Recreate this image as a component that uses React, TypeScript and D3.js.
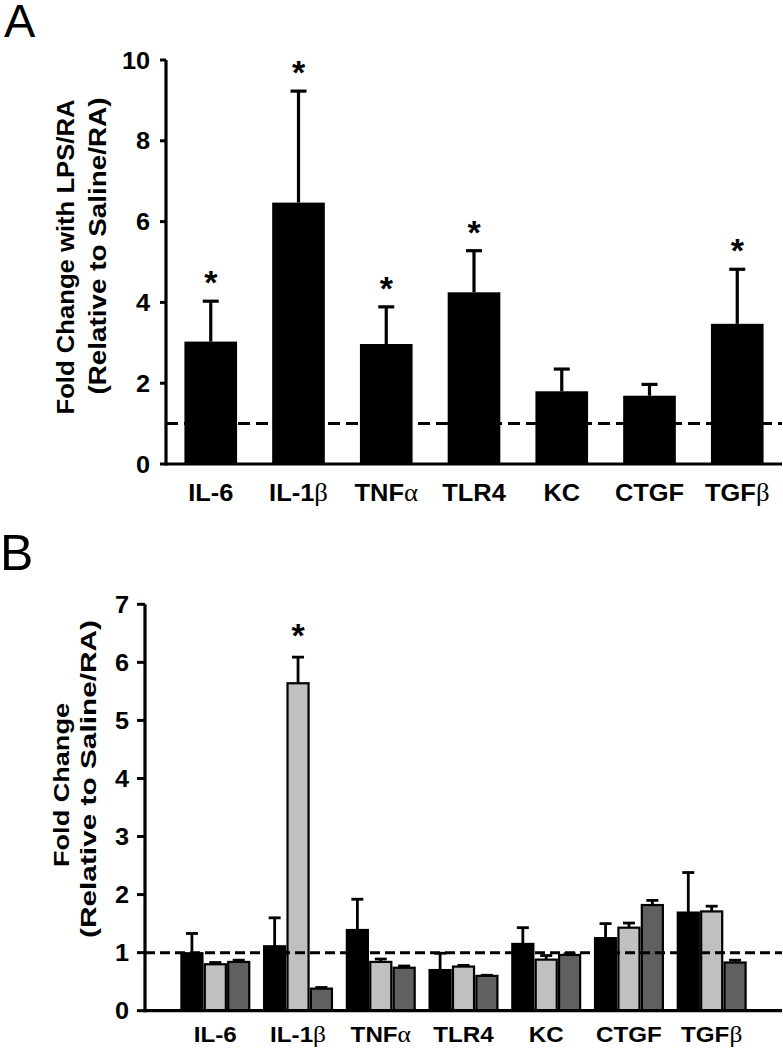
import React from 'react';
import * as d3 from 'd3';

const categories = ['IL-6', 'IL-1β', 'TNFα', 'TLR4', 'KC', 'CTGF', 'TGFβ'];

// Panel A: fold change with LPS/RA
const aMeans = [3.03, 6.47, 2.97, 4.25, 1.8, 1.69, 3.47];
const aErrors = [1.0, 2.76, 0.92, 1.03, 0.55, 0.28, 1.35];
const aSignificant = [true, true, true, true, false, false, true];
const aTicks = [0, 2, 4, 6, 8, 10];

// Panel B: three groups
const bSeriesNames = ['s1', 's2', 's3'];
const bSeries1 = [0.99, 1.11, 1.39, 0.7, 1.15, 1.25, 1.69];
const bSeries1Err = [0.34, 0.49, 0.53, 0.29, 0.28, 0.25, 0.69];
const bSeries2 = [0.8, 5.64, 0.84, 0.76, 0.88, 1.43, 1.71];
const bSeries2Err = [0.03, 0.45, 0.05, 0.02, 0.07, 0.08, 0.09];
const bSeries3 = [0.84, 0.38, 0.74, 0.6, 0.96, 1.82, 0.83];
const bSeries3Err = [0.03, 0.02, 0.03, 0.01, 0.02, 0.08, 0.04];
const bSignificant = [
  [false, false, false, false, false, false, false],
  [false, true, false, false, false, false, false],
  [false, false, false, false, false, false, false],
];
const bTicks = [0, 1, 2, 3, 4, 5, 6, 7];
const bColors = ['#000000', '#c0c0c0', '#606060'];

const FONT = 'Liberation Sans, Arial, Helvetica, sans-serif';
const GREEK = 'Liberation Serif, DejaVu Serif, serif';

function Label({ text, x, y, size, sx }: { text: string; x: number; y: number; size: number; sx: number }) {
  const last = text.slice(-1);
  const isGreek = last === 'β' || last === 'α';
  const base = isGreek ? text.slice(0, -1) : text;
  return (
    <text
      transform={`translate(${x},${y}) scale(${sx},1)`}
      textAnchor="middle"
      fontFamily={FONT}
      fontWeight="bold"
      fontSize={size}
    >
      {base}
      {isGreek && (
        <tspan fontFamily={GREEK} fontWeight="normal" fontSize={size * 1.05}>
          {last}
        </tspan>
      )}
    </text>
  );
}

function PanelA() {
  const x0 = 166, x1 = 782, yTop = 60, yBottom = 464;
  const y = d3.scaleLinear().domain([0, 10]).range([yBottom, yTop]);
  const x = d3.scaleBand<string>().domain(categories).range([x0, x1]).paddingInner(0.4).paddingOuter(0.21);
  const bw = x.bandwidth();
  return (
    <g>
      <text x={4} y={37} fontFamily={FONT} fontSize={47}>A</text>
      {categories.map((c, i) => {
        const cx = (x(c) as number) + bw / 2;
        const top = y(aMeans[i]);
        const et = y(aMeans[i] + aErrors[i]);
        return (
          <g key={c}>
            <rect x={x(c)} y={top} width={bw} height={yBottom - top} fill="#000" />
            <line x1={cx} x2={cx} y1={top} y2={et} stroke="#000" strokeWidth={3.2} />
            <line x1={cx - 8} x2={cx + 8} y1={et} y2={et} stroke="#000" strokeWidth={3.2} />
            {aSignificant[i] && (
              <text x={cx} y={et - 26 + 19} textAnchor="middle" fontFamily={FONT} fontWeight="bold" fontSize={34}>*</text>
            )}
          </g>
        );
      })}
      <line x1={x0} x2={x1} y1={y(1)} y2={y(1)} stroke="#000" strokeWidth={3} strokeDasharray="12,6" />
      <line x1={x0} x2={x0} y1={yTop} y2={yBottom + 1.5} stroke="#000" strokeWidth={3.2} />
      <line x1={x0} x2={x1} y1={yBottom} y2={yBottom} stroke="#000" strokeWidth={3.2} />
      {aTicks.map((t) => (
        <g key={t}>
          <line x1={x0 - 6} x2={x0} y1={y(t)} y2={y(t)} stroke="#000" strokeWidth={3} />
          <text
            transform={`translate(${150},${y(t) + 8.5}) scale(1.1,1)`}
            textAnchor="end"
            fontFamily={FONT}
            fontWeight="bold"
            fontSize={23}
          >
            {t}
          </text>
        </g>
      ))}
      {categories.map((c) => (
        <Label key={c} text={c} x={(x(c) as number) + bw / 2} y={501} size={24} sx={1.06} />
      ))}
      <text
        transform={`translate(74,257) rotate(-90)`}
        textAnchor="middle"
        fontFamily={FONT}
        fontWeight="bold"
        fontSize={24}
        textLength={315}
        lengthAdjust="spacingAndGlyphs"
      >
        Fold Change with LPS/RA
      </text>
      <text
        transform={`translate(106,246) rotate(-90)`}
        textAnchor="middle"
        fontFamily={FONT}
        fontWeight="bold"
        fontSize={24}
        textLength={297}
        lengthAdjust="spacingAndGlyphs"
      >
        (Relative to Saline/RA)
      </text>
    </g>
  );
}

function PanelB() {
  const x0 = 145, x1 = 782, yTop = 604.3, yBottom = 1010.7;
  const y = d3.scaleLinear().domain([0, 7]).range([yBottom, yTop]);
  const x = d3.scaleBand<string>().domain(categories).range([x0, x1]).paddingInner(0.18).paddingOuter(0.44);
  const xs = d3.scaleBand<string>().domain(bSeriesNames).range([0, x.bandwidth()]).paddingInner(0.1);
  const sw = xs.bandwidth();
  const values = [bSeries1, bSeries2, bSeries3];
  const errs = [bSeries1Err, bSeries2Err, bSeries3Err];
  return (
    <g>
      <text x={0} y={570} fontFamily={FONT} fontSize={50}>B</text>
      {categories.map((c, i) => (
        <g key={c} transform={`translate(${x(c)},0)`}>
          {bSeriesNames.map((s, k) => {
            const v = values[k][i];
            const e = errs[k][i];
            const bx = xs(s) as number;
            const cx = bx + sw / 2;
            const top = y(v);
            const et = y(v + e);
            return (
              <g key={s}>
                <line x1={cx} x2={cx} y1={top} y2={et} stroke="#000" strokeWidth={2.8} />
                <line x1={cx - 6} x2={cx + 6} y1={et} y2={et} stroke="#000" strokeWidth={2.8} />
                <rect x={bx} y={top} width={sw} height={yBottom - top} fill={bColors[k]} stroke="#000" strokeWidth={2.2} />
                {bSignificant[k][i] && (
                  <text x={cx} y={et - 29 + 19} textAnchor="middle" fontFamily={FONT} fontWeight="bold" fontSize={34}>*</text>
                )}
              </g>
            );
          })}
        </g>
      ))}
      <line x1={x0} x2={x1} y1={y(1)} y2={y(1)} stroke="#000" strokeWidth={3} strokeDasharray="10,5" />
      <line x1={x0} x2={x0} y1={yTop} y2={yBottom + 1.5} stroke="#000" strokeWidth={3.2} />
      <line x1={x0} x2={x1} y1={yBottom} y2={yBottom} stroke="#000" strokeWidth={3.2} />
      {bTicks.map((t) => (
        <g key={t}>
          <line x1={x0 - 8} x2={x0} y1={y(t)} y2={y(t)} stroke="#000" strokeWidth={3} />
          <text
            transform={`translate(${129},${y(t) + 8.5}) scale(1.1,1)`}
            textAnchor="end"
            fontFamily={FONT}
            fontWeight="bold"
            fontSize={23}
          >
            {t}
          </text>
        </g>
      ))}
      {categories.map((c) => (
        <Label key={c} text={c} x={(x(c) as number) + x.bandwidth() / 2} y={1042} size={22} sx={1.1} />
      ))}
      <text
        transform={`translate(69,785) rotate(-90)`}
        textAnchor="middle"
        fontFamily={FONT}
        fontWeight="bold"
        fontSize={22}
        textLength={164}
        lengthAdjust="spacingAndGlyphs"
      >
        Fold Change
      </text>
      <text
        transform={`translate(96,779) rotate(-90)`}
        textAnchor="middle"
        fontFamily={FONT}
        fontWeight="bold"
        fontSize={22}
        textLength={318}
        lengthAdjust="spacingAndGlyphs"
      >
        (Relative to Saline/RA)
      </text>
    </g>
  );
}

export default function App() {
  return (
    <svg
      width={783}
      height={1050}
      viewBox="0 0 783 1050"
      style={{ position: 'absolute', left: 0, top: 0, display: 'block', background: '#fff' }}
    >
      <rect x={0} y={0} width={783} height={1050} fill="#fff" />
      <PanelA />
      <PanelB />
    </svg>
  );
}
